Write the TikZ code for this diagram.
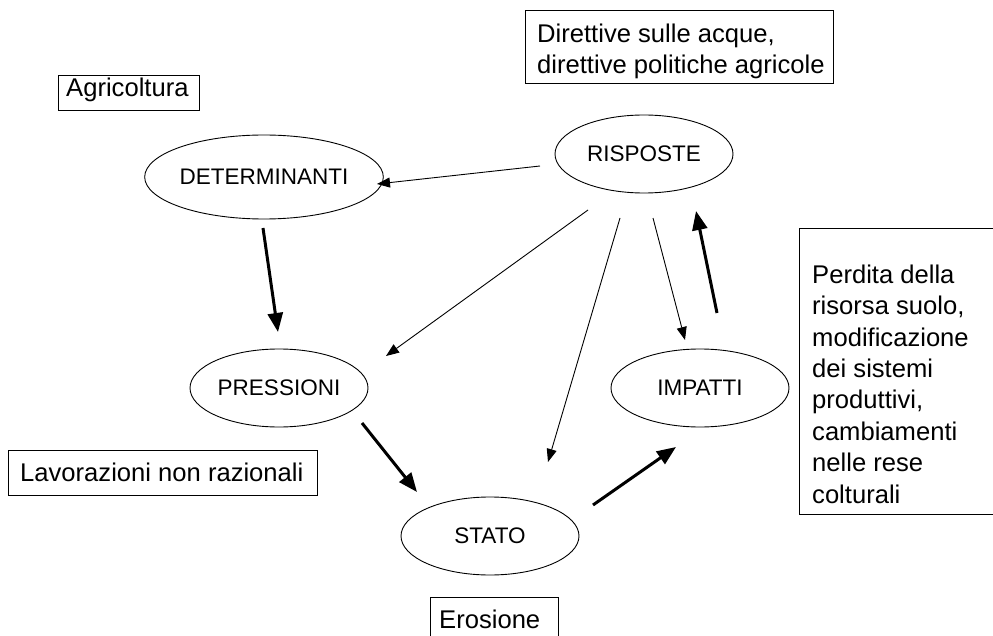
\documentclass[tikz,border=0pt]{standalone}
\usepackage{fontspec}
\setmainfont{Liberation Sans}
\usetikzlibrary{shapes.geometric,arrows.meta,calc}

\tikzset{
  stage/.style={ellipse, draw, line width=0.9pt, inner sep=0pt,
    minimum width=178pt, minimum height=78pt,
    font=\fontsize{22.5}{26}\selectfont},
  frame/.style={draw, line width=0.9pt, rectangle, inner sep=0pt, anchor=north west},
  note/.style={inner sep=0pt, anchor=base west, align=left,
    font=\fontsize{25.6}{31.4}\selectfont},
  thinarrow/.style={line width=0.9pt, -{Triangle[length=13pt,width=10pt]}},
  thickarrow/.style={line width=3pt, -{Triangle[length=19pt,width=15pt]}}
}

\begin{document}
\begin{tikzpicture}[x=1pt, y=-1pt]
  \useasboundingbox (0,0) rectangle (993,636);
  \clip (0,0) rectangle (993,636);

  % the five stages of the DPSIR chain
  \node[stage, minimum width=196pt, minimum height=84pt] (det) at (264,177) {DETERMINANTI};
  \node[stage] (ris) at (644,154) {RISPOSTE};
  \node[stage] (pre) at (279,388) {PRESSIONI};
  \node[stage] (sta) at (490,536) {STATO};
  \node[stage] (imp) at (700,388) {IMPATTI};

  % framed notes (multi-line notes are placed by the baseline of their last line)
  \node[frame, minimum width=308pt, minimum height=73pt] (fdir) at (525,10) {};
  \node[note] (tdir) at ($(fdir.north west)+(12,64)$) {Direttive sulle acque,\\direttive politiche agricole};

  \node[frame, minimum width=141pt, minimum height=35pt] (fagr) at (58,75) {};
  \node[note] (tagr) at ($(fagr.north west)+(8,22)$) {Agricoltura};

  \node[frame, minimum width=309pt, minimum height=45pt] (flav) at (8,450) {};
  \node[note] (tlav) at ($(flav.north west)+(12,31)$) {Lavorazioni non razionali};

  \node[frame, minimum width=128pt, minimum height=60pt] (fero) at (430,597) {};
  \node[note] (tero) at ($(fero.north west)+(9,31)$) {Erosione};

  \node[frame, minimum width=220pt, minimum height=286pt] (fimp) at (799,228) {};
  \node[note] (timp) at ($(fimp.north west)+(13,275)$) {Perdita della\\risorsa suolo,\\modificazione\\dei sistemi\\produttivi,\\cambiamenti\\nelle rese\\colturali};

  % connectors
  \draw[thinarrow]  ($(ris)+(-104,12)$) -- ($(det)+(113,7)$);
  \draw[thickarrow] ($(det)+(-1,51)$)   -- ($(pre)+(-1,-56)$);
  \draw[thinarrow]  ($(ris)+(-56,56)$)  -- ($(pre)+(107,-32)$);
  \draw[thinarrow]  ($(ris)+(-24,64)$)  -- ($(sta)+(58,-74)$);
  \draw[thinarrow]  ($(ris)+(9,64)$)    -- ($(imp)+(-15,-48)$);
  \draw[thickarrow] ($(imp)+(17,-75)$)  -- ($(ris)+(52,57)$);
  \draw[thickarrow] ($(pre)+(83,35)$)   -- ($(sta)+(-73,-44)$);
  \draw[thickarrow] ($(sta)+(103,-31)$) -- ($(imp)+(-24,59)$);
\end{tikzpicture}
\end{document}
